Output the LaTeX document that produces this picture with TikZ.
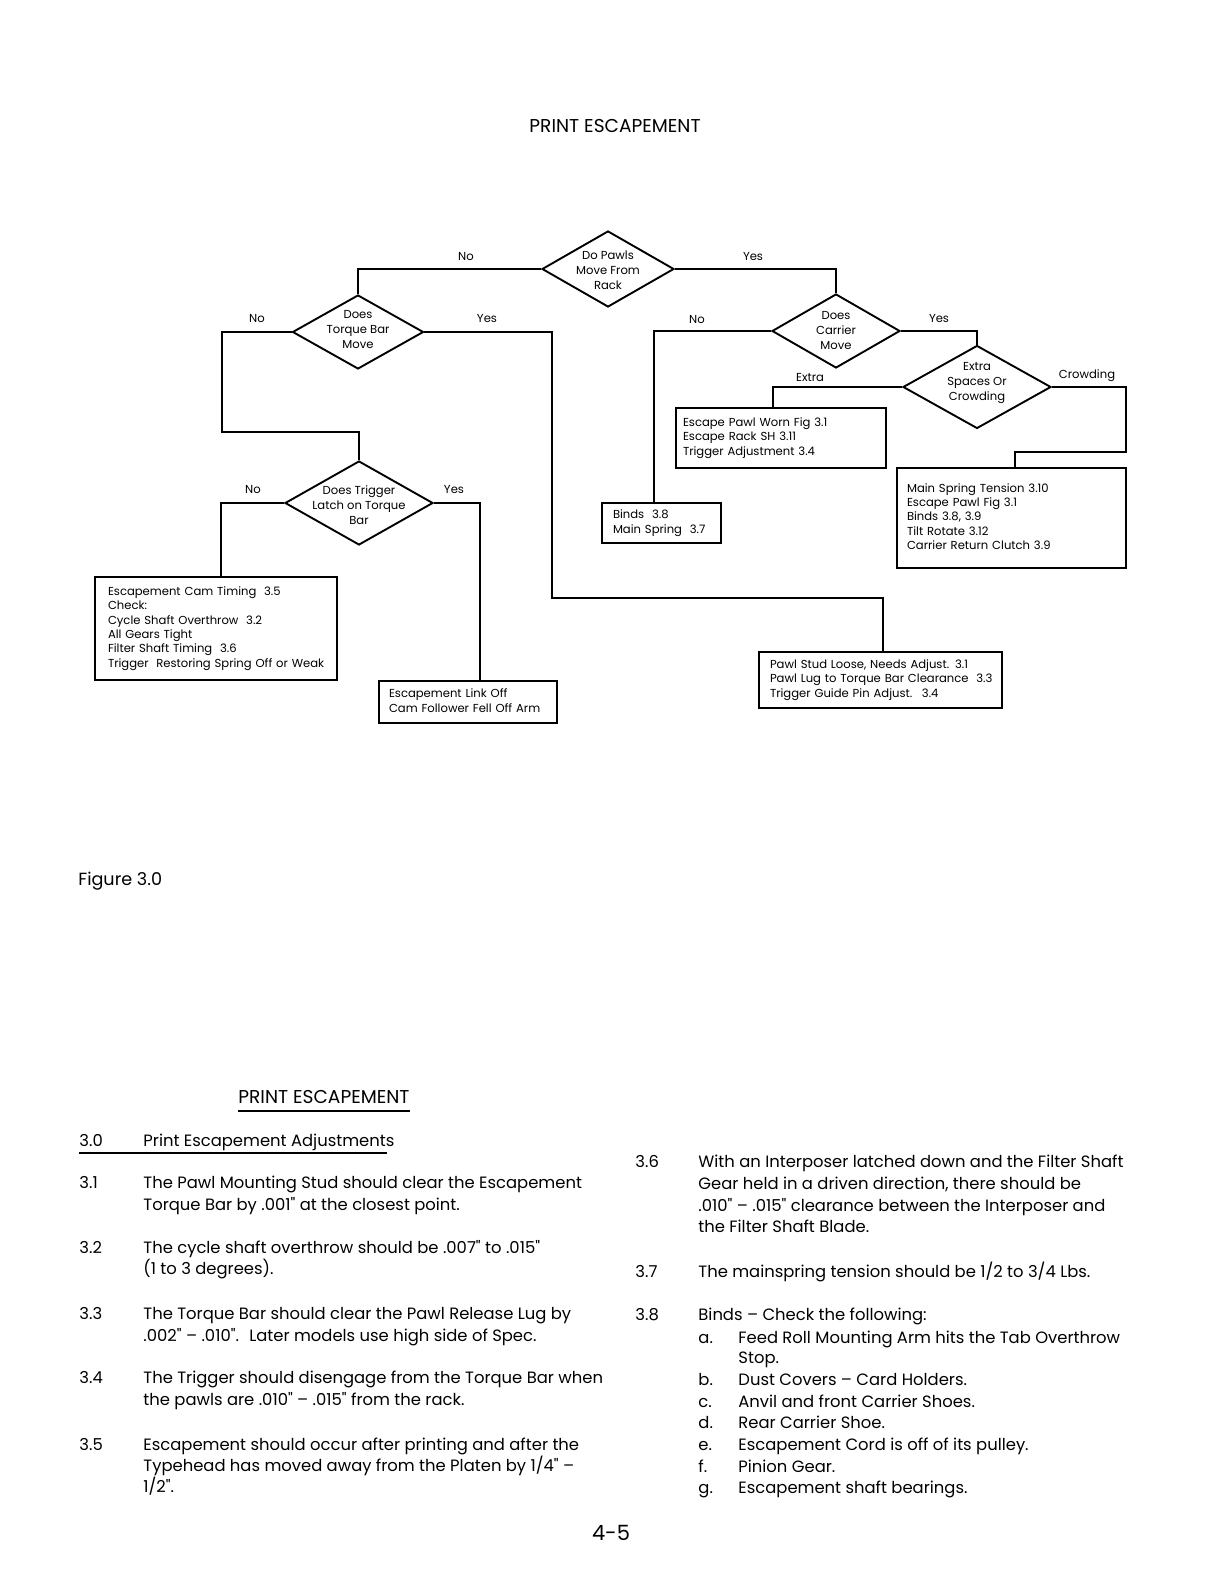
\documentclass[tikz,border=0pt]{standalone}
\usepackage{fontspec}
\setmainfont{Poppins}[Ligatures=TeXOff]
\usetikzlibrary{shapes.geometric,calc}
\newcommand{\myflow}{\fontsize{5.8}{7.2}\selectfont}
\newcommand{\mydia}{\fontsize{5.8}{7.5}\selectfont}
\newcommand{\mybody}{\fontsize{8.2}{10.8}\selectfont}
\newcommand{\dtx}[2][-2.8pt]{\makebox[0pt]{\smash{\raisebox{#1}{\begin{tabular}{@{}c@{}}#2\end{tabular}}}}}
\newcommand{\btx}[1]{\begin{tabular}{@{}l@{}}#1\end{tabular}}
\begin{document}
\begin{tikzpicture}[x=0.5pt,y=-0.5pt,
  con/.style={line width=0.95pt},
  dia/.style={draw, diamond, line width=0.95pt, inner sep=0pt, font=\mydia},
  box/.style={draw, line width=0.95pt, align=left, font=\myflow, inner ysep=0pt},
  lab/.style={font=\myflow, inner sep=0pt},
  body/.style={font=\mybody, anchor=base west, inner sep=0pt}]
\fill[white] (0,0) rectangle (1224,1582);
\useasboundingbox (0,0) rectangle (1224,1582);

% title
\node[font=\fontsize{9.3}{11}\selectfont, anchor=base, inner sep=0pt] (title) at (615,133) {PRINT ESCAPEMENT};

% diamonds
\node[dia, minimum width=66pt, minimum height=38pt] (pawls) at (608,269) {\dtx{Do Pawls\\Move From\\Rack}};
\node[dia, minimum width=65.5pt, minimum height=37pt] (torque) at (358,332) {\dtx[-0.9pt]{Does\\Torque Bar\\Move}};
\node[dia, minimum width=64pt, minimum height=37pt] (carrier) at (836,331) {\dtx[-1.7pt]{Does\\Carrier\\Move}};
\node[dia, minimum width=74pt, minimum height=41.5pt] (extra) at (977,387) {\dtx[0.6pt]{Extra\\Spaces Or\\Crowding}};
\node[dia, minimum width=74pt, minimum height=42pt] (trigger) at (359,503) {\dtx[-3.4pt]{Does Trigger\\Latch on Torque\\Bar}};

% boxes
\node[box, minimum width=121pt, minimum height=51.5pt, inner xsep=6.5pt, text width=108pt] (cam) at (216,628.5)
  {\btx{Escapement Cam Timing~ 3.5\\Check:\\Cycle Shaft Overthrow~ 3.2\\All Gears Tight\\Filter Shaft Timing~ 3.6\\Trigger~ Restoring Spring Off or Weak}};
\node[box, minimum width=89pt, minimum height=21pt, inner xsep=5pt, text width=79pt] (link) at (468,702)
  {\btx{Escapement Link Off\\Cam Follower Fell Off Arm}};
\node[box, minimum width=59.5pt, minimum height=20pt, inner xsep=5.5pt, text width=48.5pt] (binds) at (661.5,523)
  {\btx{Binds~ 3.8\\Main Spring~ 3.7}};
\node[box, minimum width=105pt, minimum height=30pt, inner xsep=3.5pt, text width=98pt] (extrabox) at (781,438)
  {\btx{Escape Pawl Worn Fig 3.1\\Escape Rack SH 3.11\\Trigger Adjustment 3.4}};
\node[box, minimum width=114.5pt, minimum height=50pt, inner xsep=5pt, text width=104.5pt] (crowdbox) at (1011.5,518)
  {\btx{Main Spring Tension 3.10\\Escape Pawl Fig 3.1\\Binds 3.8, 3.9\\Tilt Rotate 3.12\\Carrier Return Clutch 3.9}};
\node[box, minimum width=121.5pt, minimum height=28pt, inner xsep=5.5pt, text width=110.5pt] (pawl) at (880.5,680)
  {\btx{Pawl Stud Loose, Needs Adjust. 3.1\\Pawl Lug to Torque Bar Clearance~ 3.3\\Trigger Guide Pin Adjust.~ 3.4}};

% connectors
\coordinate (tnL) at (222,432);
\coordinate (tyR) at (552,598);
\coordinate (crR) at (1126,452);
\draw[con] (pawls.west) -| (torque.north);
\draw[con] (pawls.east) -| (carrier.north);
\draw[con] (torque.west) -| (tnL) -| (trigger.north);
\draw[con] (torque.east) -| (tyR) -| ([xshift=1.25pt]pawl.north);
\draw[con] (carrier.west) -| ([xshift=-3.75pt]binds.north);
\draw[con] (carrier.east) -| (extra.north);
\draw[con] (extra.west) -| ([xshift=-4pt]extrabox.north);
\draw[con] (extra.east) -| (crR) -| ([xshift=1.75pt]crowdbox.north);
\draw[con] (trigger.west) -| ([xshift=2.5pt]cam.north);
\draw[con] (trigger.east) -| ([xshift=6pt]link.north);

% labels
\node[lab] (l1) at (466,257) {No};
\node[lab] (l2) at (753,257) {Yes};
\node[lab] (l3) at (257,319) {No};
\node[lab] (l4) at (487,319) {Yes};
\node[lab] (l5) at (697,320) {No};
\node[lab] (l6) at (939,319) {Yes};
\node[lab] (l7) at (810,378) {Extra};
\node[lab] (l8) at (1087,376) {Crowding};
\node[lab] (l9) at (253,490) {No};
\node[lab] (l10) at (454,490) {Yes};

% figure caption
\node[body, font=\fontsize{8.8}{11}\selectfont] (fig) at (78,885) {Figure 3.0};

% lower text
\node[body, font=\fontsize{9.3}{11}\selectfont] (h2) at (238,1103) {PRINT ESCAPEMENT};
\draw[line width=0.7pt] (238,1111) -- (410,1111);
\node[body] (n30) at (79,1146) {3.0};
\node[body] (t30) at (143,1146) {Print Escapement Adjustments};
\draw[line width=0.7pt] (79,1153) -- (387,1153);

\node[body] (n31) at (79,1188) {3.1};
\node[body] (t31a) at (143,1188) {The Pawl Mounting Stud should clear the Escapement};
\node[body] (t31b) at (143,1210) {Torque Bar by .001" at the closest point.};
\node[body] (n32) at (79,1253) {3.2};
\node[body] (t32a) at (143,1253) {The cycle shaft overthrow should be .007" to .015"};
\node[body] (t32b) at (143,1274) {(1 to 3 degrees).};
\node[body] (n33) at (79,1319) {3.3};
\node[body] (t33a) at (143,1319) {The Torque Bar should clear the Pawl Release Lug by};
\node[body] (t33b) at (143,1341) {.002" – .010".~ Later models use high side of Spec.};
\node[body] (n34) at (79,1383) {3.4};
\node[body] (t34a) at (143,1383) {The Trigger should disengage from the Torque Bar when};
\node[body] (t34b) at (143,1405) {the pawls are .010" – .015" from the rack.};
\node[body] (n35) at (79,1450) {3.5};
\node[body] (t35a) at (143,1450) {Escapement should occur after printing and after the};
\node[body] (t35b) at (143,1471) {Typehead has moved away from the Platen by 1/4" –};
\node[body] (t35c) at (143,1492) {1/2".};

\node[body] (n36) at (635,1167) {3.6};
\node[body] (t36a) at (698,1167) {With an Interposer latched down and the Filter Shaft};
\node[body] (t36b) at (698,1189) {Gear held in a driven direction, there should be};
\node[body] (t36c) at (698,1211) {.010" – .015" clearance between the Interposer and};
\node[body] (t36d) at (698,1232) {the Filter Shaft Blade.};
\node[body] (n37) at (635,1277) {3.7};
\node[body] (t37) at (698,1277) {The mainspring tension should be 1/2 to 3/4 Lbs.};
\node[body] (n38) at (635,1320) {3.8};
\node[body] (t38) at (698,1320) {Binds – Check the following:};
\node[body] (ia) at (698,1343) {a.};
\node[body] (ta) at (738,1343) {Feed Roll Mounting Arm hits the Tab Overthrow};
\node[body] (ta2) at (738,1363) {Stop.};
\node[body] (ib) at (698,1385) {b.};
\node[body] (tb) at (738,1385) {Dust Covers – Card Holders.};
\node[body] (ic) at (698,1407) {c.};
\node[body] (tc) at (738,1407) {Anvil and front Carrier Shoes.};
\node[body] (id) at (698,1428) {d.};
\node[body] (td) at (738,1428) {Rear Carrier Shoe.};
\node[body] (ie) at (698,1450) {e.};
\node[body] (te) at (738,1450) {Escapement Cord is off of its pulley.};
\node[body] (if) at (698,1472) {f.};
\node[body] (tf) at (738,1472) {Pinion Gear.};
\node[body] (ig) at (698,1493) {g.};
\node[body] (tg) at (738,1493) {Escapement shaft bearings.};

\node[font=\fontsize{10.5}{13}\selectfont, anchor=base, inner sep=0pt] (page) at (611,1540) {4-5};
\end{tikzpicture}
\end{document}
